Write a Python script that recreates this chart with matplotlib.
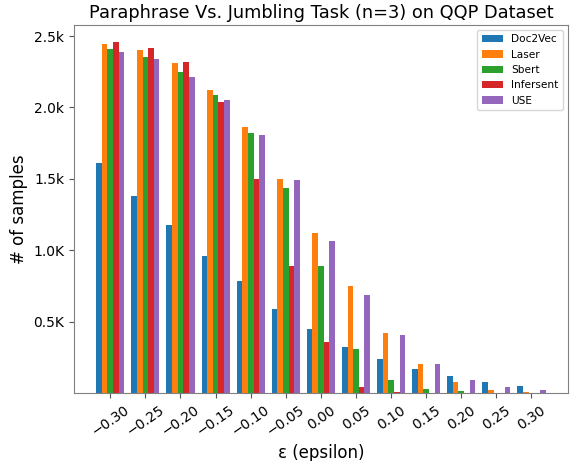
import matplotlib
matplotlib.use("Agg")
import matplotlib.pyplot as plt
import numpy as np
from matplotlib.ticker import FixedLocator, FixedFormatter

epsilon = [-0.30, -0.25, -0.20, -0.15, -0.10, -0.05, 0.00, 0.05, 0.10, 0.15, 0.20, 0.25, 0.30]
doc2vec = [1610, 1377, 1176, 960, 783, 590, 451, 324, 243, 170, 120, 80, 50]
laser = [2445, 2405, 2310, 2120, 1865, 1500, 1118, 750, 424, 205, 80, 25, 8]
sbert = [2410, 2350, 2248, 2090, 1822, 1435, 889, 308, 92, 30, 15, 0, 0]
infersent = [2455, 2418, 2315, 2035, 1500, 889, 359, 46, 10, 0, 0, 0, 0]
use = [2390, 2338, 2210, 2055, 1810, 1490, 1062, 685, 410, 205, 95, 45, 25]

series = [("Doc2Vec", doc2vec), ("Laser", laser), ("Sbert", sbert),
          ("Infersent", infersent), ("USE", use)]
colors = ["#1f77b4", "#ff7f0e", "#2ca02c", "#d62728", "#9467bd"]

ytick_vals = [500, 1000, 1500, 2000, 2500]
ytick_labels = ["0.5K", "1.0K", "1.5k", "2.0k", "2.5k"]

fig = plt.figure(figsize=(5.72, 4.61), dpi=100)
ax = fig.add_axes([0.129, 0.147, 0.864, 0.799])

x = np.array(epsilon)
w = 0.008
for i, ((name, vals), c) in enumerate(zip(series, colors)):
    ax.bar(x + (i - 2) * w, vals, width=w, color=c, label=name)

ax.set_xticks(epsilon)
ax.set_xticklabels([f"{v:.2f}".replace("-", "\u2212") for v in epsilon], rotation=35, fontsize=10)
ax.yaxis.set_major_locator(FixedLocator(ytick_vals))
ax.yaxis.set_major_formatter(FixedFormatter(ytick_labels))
ax.tick_params(axis='y', labelsize=10)
ax.tick_params(colors='#555555', labelcolor='black')
for s in ax.spines.values():
    s.set_color('#808080')

ax.set_xlabel("\u03b5 (epsilon)", fontsize=12)
ax.set_ylabel("# of samples", fontsize=12)
ax.set_title("Paraphrase Vs. Jumbling Task (n=3) on QQP Dataset", fontsize=12.8, pad=5)
ax.legend(loc="upper right", fontsize=7.6)

fig.savefig("out.png", dpi=100)
